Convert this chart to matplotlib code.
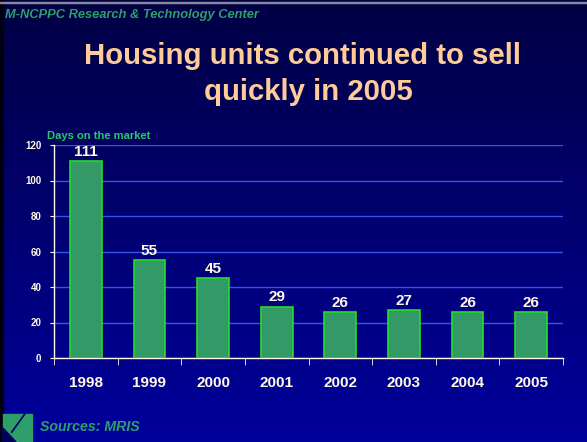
import numpy as np
import matplotlib
matplotlib.use("Agg")
import matplotlib.pyplot as plt
from matplotlib.patches import Polygon, Rectangle

years = ["1998", "1999", "2000", "2001", "2002", "2003", "2004", "2005"]
days_on_market = [111, 55, 45, 29, 26, 27, 26, 26]
y_ticks = [0, 20, 40, 60, 80, 100, 120]

W, H = 587, 442
fig = plt.figure(figsize=(W / 100, H / 100), dpi=100)
plt.rcParams["font.family"] = ["Liberation Sans", "DejaVu Sans"]

# vertical gradient background
bg = fig.add_axes([0, 0, 1, 1], zorder=0)
grad = np.linspace(0, 1, 256)[:, None]
top = np.array([0x00, 0x00, 0x44]) / 255
bot = np.array([0x00, 0x00, 0x9c]) / 255
img = top[None, None, :] * (1 - grad[..., None]) + bot[None, None, :] * grad[..., None]
bg.imshow(img, aspect="auto", extent=[0, 1, 0, 1], origin="upper")
bg.set_xlim(0, 1)
bg.set_ylim(0, 1)
bg.axis("off")
# dark left edge and thin top rule
bg.add_patch(Rectangle((0, 0), 3 / W, 1, color="#000010", transform=bg.transAxes))
bg.add_patch(Rectangle((0, 1 - 3 / H), 1, 1.5 / H, color="#888899", transform=bg.transAxes))

# logo block at bottom-left
lx0, ly0 = 3 / W, 0
lw, lh = 29 / W, 28 / H
bg.add_patch(Rectangle((lx0, ly0), lw, lh, color="#2e9e6a", transform=bg.transAxes))
bg.add_patch(Polygon([(lx0, ly0), (lx0 + lw * 0.45, ly0), (lx0, ly0 + lh * 0.5)],
                     color="#000060", transform=bg.transAxes))
bg.plot([lx0 + lw * 0.3, lx0 + lw * 0.75], [ly0 + lh * 0.35, ly0 + lh], color="#000060",
        lw=1.2, transform=bg.transAxes)

fig.text(5 / W, 1 - 15 / H, "M-NCPPC Research & Technology Center", color="#2e9e6a",
         fontsize=9.3, fontweight="bold", fontstyle="italic", ha="left", va="center")
title_style = dict(color="#ffcc99", fontsize=21.2, fontweight="bold", ha="center",
                   va="center")
fig.text(302 / W, 1 - 56 / H, "Housing units continued to sell", **title_style)
fig.text(308 / W, 1 - 92 / H, "quickly in 2005", **title_style)
fig.text(40 / W, 1 - 427 / H, "Sources: MRIS", color="#2e9e6a", fontsize=10.2,
         fontweight="bold", fontstyle="italic", ha="left", va="center")

ax = fig.add_axes([54 / W, 1 - 358 / H, (563 - 54) / W, (358 - 145) / H], zorder=1)
ax.set_facecolor("none")
x = np.arange(len(years))
bars = ax.bar(x, days_on_market, width=0.5, color="#339966", edgecolor="#22dd22",
              linewidth=1.2, zorder=3)
for xi, v in zip(x, days_on_market):
    ax.text(xi, v + 1.2, str(v), color="#fffbe6", fontsize=11, fontweight="bold",
            ha="center", va="bottom", zorder=4)

ax.set_xlim(-0.5, len(years) - 0.5)
ax.set_ylim(0, 120)
ax.set_yticks(y_ticks)
ax.set_yticklabels([str(t) for t in y_ticks], color="#fffbe6", fontsize=7,
                   fontweight="bold")
ax.set_xticks(x)
ax.set_xticklabels(years, color="#fffbe6", fontsize=11, fontweight="bold")
ax.set_xticks(np.arange(len(years) + 1) - 0.5, minor=True)
ax.tick_params(axis="x", which="major", length=0, pad=13)
ax.tick_params(axis="x", which="minor", length=5, color="#fffbe6", direction="out")
ax.tick_params(axis="y", length=3, color="#fffbe6", direction="out", pad=6)
ax.yaxis.grid(True, color="#3355ee", linewidth=1.0, zorder=1)
for sp in ["top", "right"]:
    ax.spines[sp].set_visible(False)
for sp in ["left", "bottom"]:
    ax.spines[sp].set_color("#fffbe6")
    ax.spines[sp].set_linewidth(1.0)

fig.text(47 / W, 1 - 136 / H, "Days on the market", color="#22cc66", fontsize=8,
         fontweight="bold", ha="left", va="center")

fig.savefig("out.png", dpi=100)
